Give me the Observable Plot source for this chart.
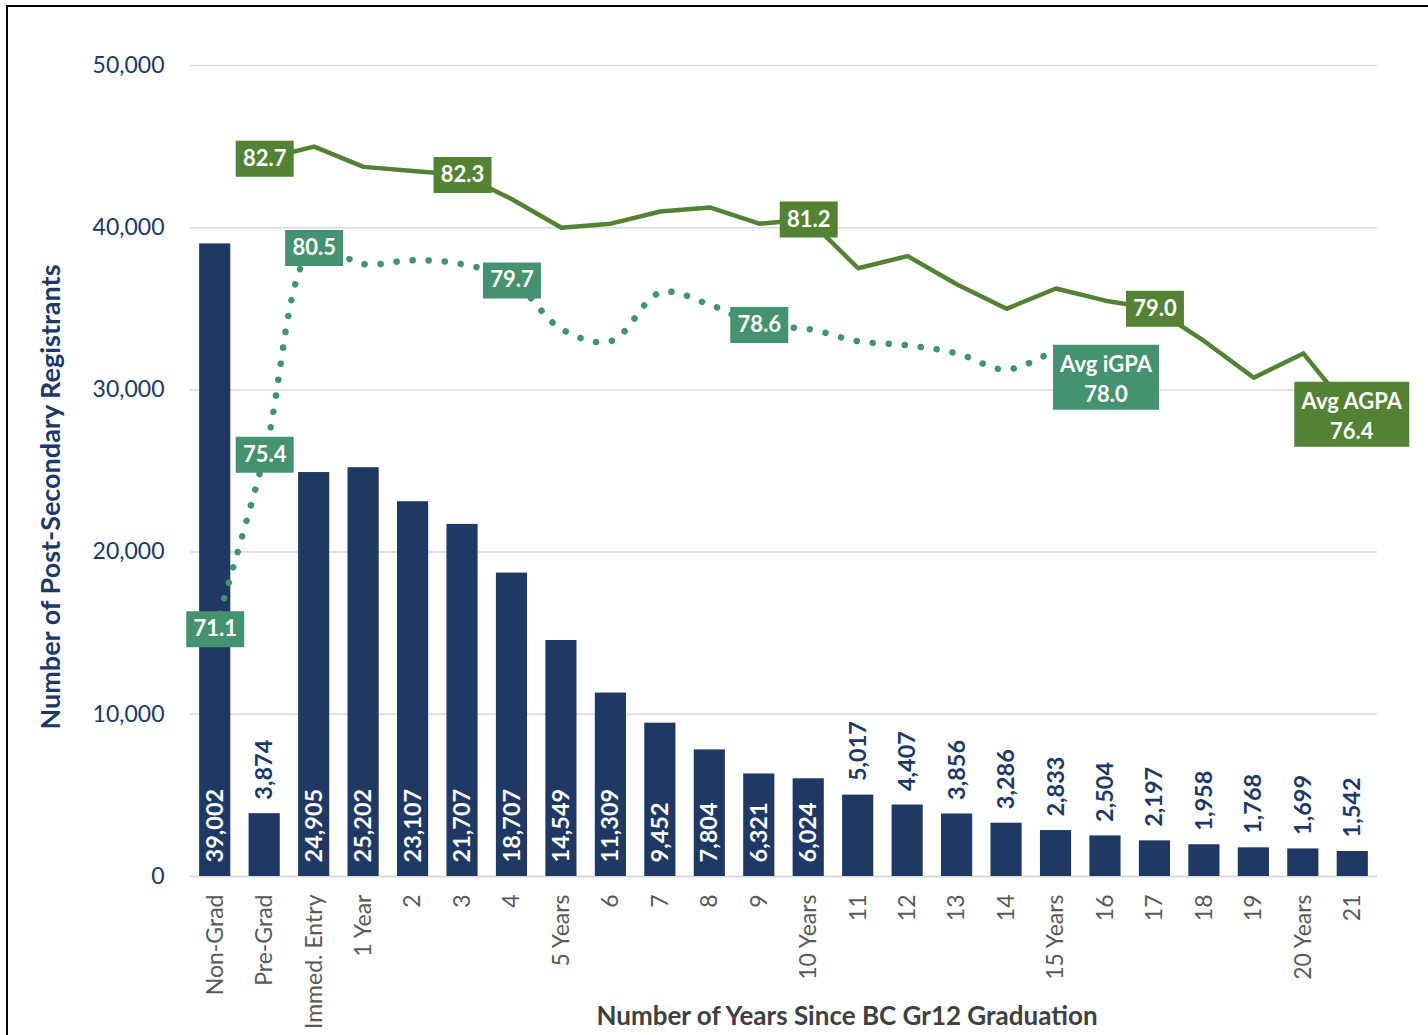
<!DOCTYPE html>
<html><head><meta charset="utf-8">
<script src="https://cdn.jsdelivr.net/npm/d3@7"></script>
<script src="https://cdn.jsdelivr.net/npm/@observablehq/plot@0.6"></script>
<style>
body{margin:0;background:#fff;}
#wrap{position:relative;width:1428px;height:1035px;overflow:hidden;}
#frame{position:absolute;left:6px;top:5px;width:1460px;height:1080px;border:2px solid #000;box-sizing:border-box;pointer-events:none;}
#chart svg{display:block;}
</style></head><body><div id="wrap"><div id="chart"></div><div id="frame"></div></div>
<script>
const categories = ["Non-Grad","Pre-Grad","Immed. Entry","1 Year","2","3","4","5 Years","6","7","8","9","10 Years","11","12","13","14","15 Years","16","17","18","19","20 Years","21"];
const registrants = [39002,3874,24905,25202,23107,21707,18707,14549,11309,9452,7804,6321,6024,5017,4407,3856,3286,2833,2504,2197,1958,1768,1699,1542];
const agpaCategories = categories.slice(1);
const agpaValues = [82.7,83.0,82.5,82.4,82.3,81.7,81.0,81.1,81.4,81.5,81.1,81.2,80.0,80.3,79.6,79.0,79.5,79.2,79.0,78.2,77.3,77.9,76.4];
const igpaCategories = categories.slice(0,18);
const igpaValues = [71.1,75.4,80.5,80.1,80.2,80.1,79.7,78.5,78.2,79.4,79.1,78.6,78.5,78.2,78.1,77.9,77.5,78.0];
const agpaLabelCats = ["Pre-Grad","3","10 Years","17"];
const agpaLabelTexts = ["82.7","82.3","81.2","79.0"];
const agpaEndText = "Avg AGPA\n76.4";
const igpaLabelCats = ["Non-Grad","Pre-Grad","Immed. Entry","4","9"];
const igpaLabelTexts = ["71.1","75.4","80.5","79.7","78.6"];
const igpaEndText = "Avg iGPA\n78.0";
const yTicks = [0,10000,20000,30000,40000,50000];
// secondary (hidden) GPA axis: 65..85 mapped onto 0..50,000
const gpaMin = 65, gpaMax = 85;
const toY = v => (v - gpaMin) * (50000 / (gpaMax - gpaMin));

const bars = categories.map((c,i)=>({cat:c, n:registrants[i]}));
const agpa = agpaCategories.map((c,i)=>({cat:c, v:agpaValues[i]}));
const igpa = igpaCategories.map((c,i)=>({cat:c, v:igpaValues[i]}));
const agpaLab = agpaLabelCats.map((c,i)=>({cat:c, v:agpaValues[agpaCategories.indexOf(c)], t:agpaLabelTexts[i]}));
const igpaLab = igpaLabelCats.map((c,i)=>({cat:c, v:igpaValues[igpaCategories.indexOf(c)], t:igpaLabelTexts[i]}));
const agpaEnd = [{cat:agpaCategories[agpaCategories.length-1], v:agpaValues[agpaValues.length-1], t:agpaEndText}];
const igpaEnd = [{cat:igpaCategories[igpaCategories.length-1], v:igpaValues[igpaValues.length-1], t:igpaEndText}];

const NAVY="#203864", AG="#548235", IG="#449270";
const box = (w,h)=>({draw(ctx){ctx.rect(-w/2,-h/2,w,h);}});
const fmt = d3.format(",");

const plot = Plot.plot({
  width:1428, height:1035,
  marginLeft:190, marginRight:51, marginTop:65, marginBottom:159,
  style:{fontFamily:"Lato, 'Open Sans', sans-serif", background:"white"},
  x:{domain:categories, range:[190,1377], paddingInner:0.37, paddingOuter:0.185, round:false},
  y:{domain:[0,50000]},
  marks:[
    Plot.gridY(yTicks.slice(1), {stroke:"#D9D9D9", strokeOpacity:1, strokeWidth:1.5}),
    Plot.ruleY([0], {stroke:"#D9D9D9", strokeWidth:2}),
    Plot.axisY({ticks:yTicks, tickFormat:fmt, tickSize:0, tickPadding:26, fontSize:23, color:NAVY, fill:NAVY, label:null}),
    Plot.axisX({tickRotate:-90, tickSize:0, tickPadding:18, fontSize:23, color:"#595959", fill:"#595959", label:null}),
    Plot.barY(bars, {x:"cat", y:"n", fill:NAVY}),
    Plot.text(bars.filter(d=>d.n>=6000), {x:"cat", y:0, text:d=>fmt(d.n), rotate:-90, textAnchor:"start", lineAnchor:"middle", dy:-14, fill:"white", fontWeight:"bold", fontSize:23.5}),
    Plot.text(bars.filter(d=>d.n<6000), {x:"cat", y:"n", text:d=>fmt(d.n), rotate:-90, textAnchor:"start", lineAnchor:"middle", dy:-14, fill:NAVY, fontWeight:"bold", fontSize:23.5}),
    Plot.line(igpa, {x:"cat", y:d=>toY(d.v), stroke:IG, strokeWidth:6.5, strokeDasharray:"0.1 16", strokeLinecap:"round", curve:"catmull-rom"}),
    Plot.line(agpa, {x:"cat", y:d=>toY(d.v), stroke:AG, strokeWidth:4.5}),
    Plot.dot(agpaLab, {x:"cat", y:d=>toY(d.v), symbol:box(58,36), r:5, fill:AG, stroke:null}),
    Plot.text(agpaLab, {x:"cat", y:d=>toY(d.v), text:"t", fill:"white", fontWeight:"bold", fontSize:22}),
    Plot.dot(igpaLab, {x:"cat", y:d=>toY(d.v), symbol:box(58,36), r:5, fill:IG, stroke:null}),
    Plot.text(igpaLab, {x:"cat", y:d=>toY(d.v), text:"t", fill:"white", fontWeight:"bold", fontSize:22}),
    Plot.dot(agpaEnd, {x:"cat", y:d=>toY(d.v), symbol:box(115,65), r:5, fill:AG, stroke:null, dx:-1}),
    Plot.text(agpaEnd, {x:"cat", y:d=>toY(d.v), text:"t", fill:"white", fontWeight:"bold", fontSize:22, lineHeight:1.36, dx:-1}),
    Plot.dot(igpaEnd, {x:"cat", y:d=>toY(d.v), symbol:box(106,65), r:5, fill:IG, stroke:null, dx:50, dy:28}),
    Plot.text(igpaEnd, {x:"cat", y:d=>toY(d.v), text:"t", fill:"white", fontWeight:"bold", fontSize:22, lineHeight:1.36, dx:50, dy:28}),
    Plot.text(["Number of Post-Secondary Registrants"], {frameAnchor:"left", text:d=>d, rotate:-90, textAnchor:"middle", lineAnchor:"middle", dx:-139, dy:26, fill:NAVY, fontWeight:"bold", fontSize:27}),
    Plot.text(["Number of Years Since BC Gr12 Graduation"], {frameAnchor:"bottom", text:d=>d, textAnchor:"middle", lineAnchor:"middle", dx:63, dy:140, fill:"#404040", fontWeight:"bold", fontSize:26})
  ]
});
document.getElementById("chart").appendChild(plot);
</script></body></html>
